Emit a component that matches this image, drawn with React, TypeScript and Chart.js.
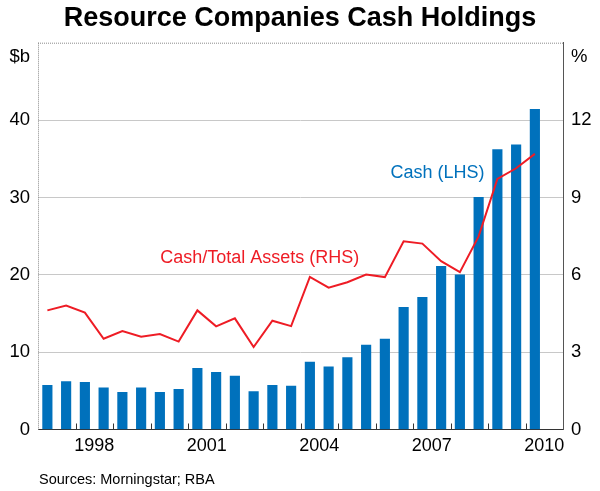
import React, { useEffect, useRef } from "react";
import { Chart, registerables } from "chart.js";

Chart.register(...registerables);

// Half-year observation points (decimal years)
const periods = [
  1997.25, 1997.75, 1998.25, 1998.75, 1999.25, 1999.75, 2000.25, 2000.75,
  2001.25, 2001.75, 2002.25, 2002.75, 2003.25, 2003.75, 2004.25, 2004.75,
  2005.25, 2005.75, 2006.25, 2006.75, 2007.25, 2007.75, 2008.25, 2008.75,
  2009.25, 2009.75, 2010.25,
];

// Cash ($b, LHS)
const cashBillions = [
  5.7, 6.2, 6.1, 5.4, 4.8, 5.4, 4.8, 5.2,
  7.9, 7.4, 6.9, 4.9, 5.7, 5.6, 8.7, 8.1,
  9.3, 10.9, 11.7, 15.8, 17.1, 21.1, 20.0, 30.0,
  36.2, 36.8, 41.4,
];

// Cash / Total assets (%, RHS)
const cashToAssetsPct = [
  4.62, 4.81, 4.53, 3.52, 3.82, 3.60, 3.70, 3.41,
  4.62, 4.00, 4.31, 3.20, 4.22, 4.01, 5.92, 5.50,
  5.71, 6.01, 5.91, 7.30, 7.21, 6.53, 6.10, 7.49,
  9.72, 10.13, 10.69,
];

const yearLabels = ["1998", "2001", "2004", "2007", "2010"];
const leftTicks = [0, 10, 20, 30, 40];
const rightTicks = [0, 3, 6, 9, 12];

const FONT = "'Liberation Sans', Arial, Helvetica, sans-serif";
const BLUE = "#0071bc";
const RED = "#ee1c25";

const decorPlugin = {
  id: "decor",
  afterDatasetsDraw(chart: any) {
    const { ctx, chartArea, scales } = chart;
    const { left, right, top, bottom } = chartArea;
    ctx.save();
    // dotted top and left frame
    ctx.strokeStyle = "#8a8a8a";
    ctx.lineWidth = 1;
    ctx.setLineDash([1, 1]);
    ctx.beginPath();
    ctx.moveTo(left, top + 0.5);
    ctx.lineTo(right, top + 0.5);
    ctx.moveTo(left + 0.5, top);
    ctx.lineTo(left + 0.5, bottom);
    ctx.stroke();
    ctx.setLineDash([]);
    // inward year ticks
    const x = scales.x;
    ctx.strokeStyle = "#333";
    ctx.beginPath();
    for (let yr = Math.ceil(x.min) + 1; yr < x.max; yr++) {
      const px = Math.round(x.getPixelForValue(yr)) + 0.5;
      ctx.moveTo(px, bottom);
      ctx.lineTo(px, bottom - 6);
    }
    ctx.stroke();
    // series labels
    ctx.font = `18px ${FONT}`;
    ctx.textAlign = "left";
    ctx.textBaseline = "alphabetic";
    ctx.fillStyle = BLUE;
    ctx.fillText("Cash (LHS)", x.getPixelForValue(2006.4), scales.y.getPixelForValue(32.45));
    ctx.fillStyle = RED;
    ctx.fillText(
      "Cash/Total Assets (RHS)",
      x.getPixelForValue(2000.26),
      scales.y2.getPixelForValue(6.44)
    );
    ctx.restore();
  },
  afterDraw(chart: any) {
    const { ctx } = chart;
    ctx.save();
    ctx.font = `14.5px ${FONT}`;
    ctx.fillStyle = "#000";
    ctx.textAlign = "left";
    ctx.textBaseline = "alphabetic";
    ctx.fillText("Sources: Morningstar; RBA", 39, 484);
    ctx.restore();
  },
};

export default function App() {
  const canvasRef = useRef<HTMLCanvasElement | null>(null);

  useEffect(() => {
    if (!canvasRef.current) return;
    const chart = new Chart(canvasRef.current, {
      data: {
        datasets: [
          {
            type: "line",
            label: "Cash/Total Assets (RHS)",
            data: periods.map((p, i) => ({ x: p, y: cashToAssetsPct[i] })),
            borderColor: RED,
            borderWidth: 2,
            pointRadius: 0,
            tension: 0,
            yAxisID: "y2",
            xAxisID: "x",
          },
          {
            type: "bar",
            label: "Cash (LHS)",
            data: periods.map((p, i) => ({ x: p, y: cashBillions[i] })),
            backgroundColor: BLUE,
            borderWidth: 0,
            barThickness: 9.5,
            yAxisID: "y",
            xAxisID: "x",
          },
        ],
      } as any,
      options: {
        responsive: false,
        animation: false,
        layout: { padding: 0 },
        plugins: {
          legend: { display: false },
          tooltip: { enabled: false },
          title: {
            display: true,
            text: "Resource Companies Cash Holdings",
            color: "#000",
            font: { family: FONT, size: 27, weight: "bold" },
            padding: { top: 2, bottom: 8.3 },
          },
        },
        scales: {
          x: {
            type: "linear",
            min: 1997,
            max: 2011,
            offset: false,
            afterBuildTicks: (scale: any) => {
              scale.ticks = yearLabels.map((y) => ({ value: Number(y) + 0.5 }));
            },
            afterFit: (scale: any) => {
              scale.height = 61.5;
            },
            ticks: {
              autoSkip: false,
              maxRotation: 0,
              padding: 6,
              color: "#000",
              font: { family: FONT, size: 18 },
              callback: (v: any) => String(Math.floor(Number(v))),
            },
            grid: { display: false, drawTicks: false, offset: false },
            border: { display: true, color: "#333", width: 1 },
          },
          y: {
            type: "linear",
            position: "left",
            min: 0,
            max: 50,
            afterBuildTicks: (scale: any) => {
              scale.ticks = [...leftTicks, 48.2].map((v) => ({ value: v }));
            },
            afterFit: (scale: any) => {
              scale.width = 38;
            },
            ticks: {
              autoSkip: false,
              padding: 8,
              color: "#000",
              font: { family: FONT, size: 18.5 },
              callback: (v: any) => (Number(v) > 45 ? "$b" : String(v)),
            },
            grid: {
              drawTicks: false,
              color: (c: any) =>
                c.tick && c.tick.value > 0 && c.tick.value < 45
                  ? "#c8c8c8"
                  : "rgba(0,0,0,0)",
              lineWidth: 1,
            },
            border: { display: false },
          },
          y2: {
            type: "linear",
            position: "right",
            min: 0,
            max: 15,
            afterBuildTicks: (scale: any) => {
              scale.ticks = [...rightTicks, 14.45].map((v) => ({ value: v }));
            },
            afterFit: (scale: any) => {
              scale.width = 37;
            },
            ticks: {
              autoSkip: false,
              padding: 8,
              color: "#000",
              font: { family: FONT, size: 18.5 },
              callback: (v: any) => (Number(v) > 13.5 ? "%" : String(v)),
            },
            grid: { display: false, drawTicks: false },
            border: { display: true, color: "#555", width: 1 },
          },
        },
      } as any,
      plugins: [decorPlugin],
    });
    return () => chart.destroy();
  }, []);

  return (
    <div style={{ position: "fixed", left: 0, top: 0, width: 600, height: 491, background: "#fff" }}>
      <canvas ref={canvasRef} width={600} height={491} style={{ display: "block" }} />
    </div>
  );
}
